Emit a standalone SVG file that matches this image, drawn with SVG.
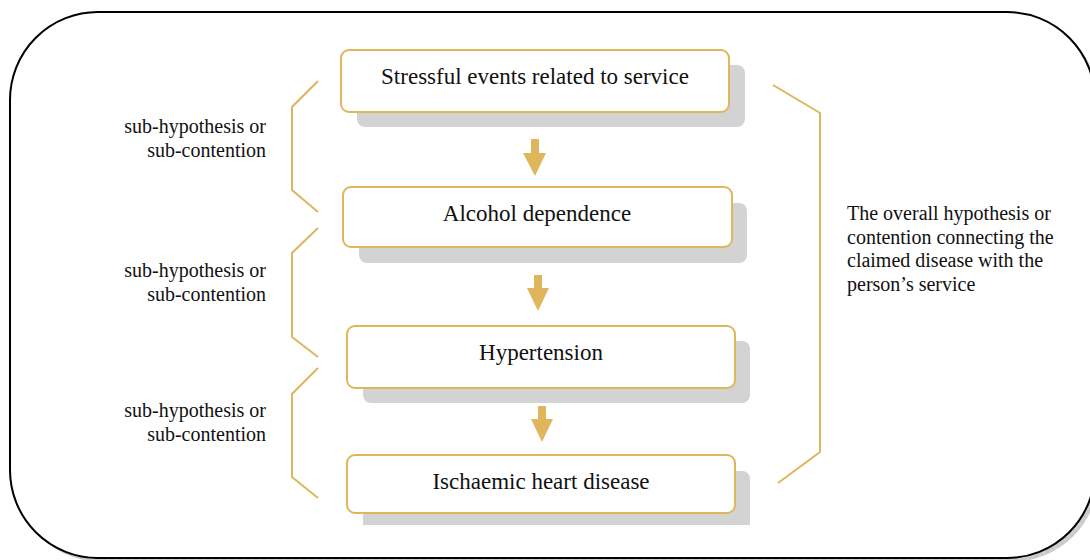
<svg xmlns="http://www.w3.org/2000/svg" width="1090" height="560" viewBox="0 0 1090 560">
<style>
.t{font-family:"Liberation Serif","Times New Roman",serif;fill:#111;}
.box{fill:#fff;stroke:#DFB65C;stroke-width:2;}
.sh{fill:#D3D3D3;}
.br{fill:none;stroke:#DFB65C;stroke-width:2;}
.ar{fill:#DFB65C;}
</style>
<defs>
<pattern id="hatch" width="8" height="8" patternUnits="userSpaceOnUse">
<rect width="8" height="8" fill="#cfcfcf"/>
<path d="M0 0L8 8M8 0L0 8" stroke="#b8b8b8" stroke-width="0.6"/>
</pattern>
</defs>
<g id="frame">
<rect x="14" y="16" width="1085" height="546" rx="88" ry="88" fill="url(#hatch)"/>
<rect x="10" y="12" width="1085" height="546" rx="88" ry="88" fill="#fff" stroke="#000" stroke-width="2"/>
</g>
<g id="node1">
<rect class="sh" x="357" y="65" width="388" height="62" rx="8"/>
<rect class="box" x="341" y="50" width="388" height="62" rx="8"/>
<text class="t" x="535" y="84" font-size="23" text-anchor="middle">Stressful events related to service</text>
</g>
<g id="node2">
<rect class="sh" x="359" y="203" width="388" height="60" rx="8"/>
<rect class="box" x="343" y="187" width="389" height="60" rx="8"/>
<text class="t" x="537" y="221" font-size="23" text-anchor="middle">Alcohol dependence</text>
</g>
<g id="node3">
<rect class="sh" x="363" y="341" width="387" height="62" rx="8"/>
<rect class="box" x="347" y="326" width="388" height="62" rx="8"/>
<text class="t" x="541" y="360" font-size="23" text-anchor="middle">Hypertension</text>
</g>
<g id="node4">
<path class="sh" d="M371 471H742a8 8 0 0 1 8 8V525H363V479a8 8 0 0 1 8-8z"/>
<rect class="box" x="347" y="455" width="388" height="58" rx="8"/>
<text class="t" x="541" y="489" font-size="23" text-anchor="middle">Ischaemic heart disease</text>
</g>
<g id="connectors">
<polygon class="ar" points="531,139 539,139 539,153 546,153 535,176 523,153 531,153"/>
<polygon class="ar" points="534,275 542,275 542,288 549,288 538,311 527,288 534,288"/>
<polygon class="ar" points="538,406 546,406 546,419 553,419 542,442 531,419 538,419"/>
<polyline class="br" points="318,81 292,107 292,190 318,212"/>
<polyline class="br" points="318,228 292,253 292,337 318,357"/>
<polyline class="br" points="318,368 292,394 292,477 318,498"/>
<polyline class="br" points="773,85 820,113 820,452 778,483"/>
</g>
<g id="labels">
<text class="t" font-size="20" text-anchor="end"><tspan x="266" y="133">sub-hypothesis or</tspan><tspan x="266" y="157">sub-contention</tspan></text>
<text class="t" font-size="20" text-anchor="end"><tspan x="266" y="277">sub-hypothesis or</tspan><tspan x="266" y="301">sub-contention</tspan></text>
<text class="t" font-size="20" text-anchor="end"><tspan x="266" y="417">sub-hypothesis or</tspan><tspan x="266" y="441">sub-contention</tspan></text>
<text class="t" font-size="20"><tspan x="847" y="220">The overall hypothesis or</tspan><tspan x="847" y="243.5">contention connecting the</tspan><tspan x="847" y="267">claimed disease with the</tspan><tspan x="847" y="290.5">person’s service</tspan></text>
</g>
</svg>
